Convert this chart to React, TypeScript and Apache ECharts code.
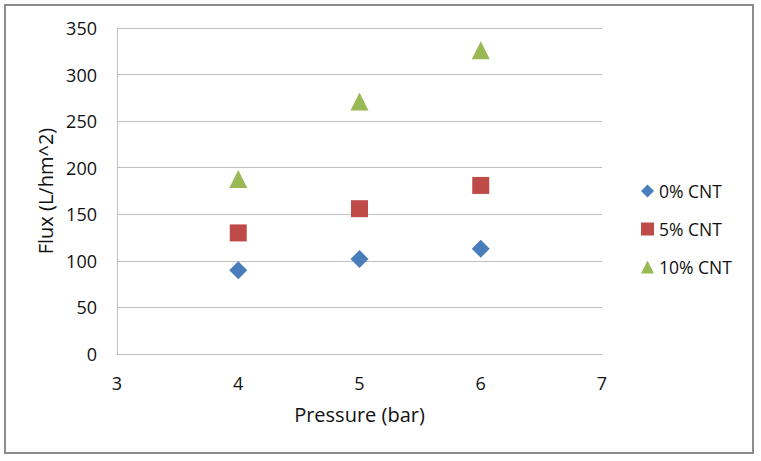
import React, { useEffect, useRef } from "react";
import * as echarts from "echarts";

const pressure = [4, 5, 6];
const cnt0 = [90, 102, 113];
const cnt5 = [130, 156, 181];
const cnt10 = [188, 271, 326];
const seriesNames = ["0% CNT", "5% CNT", "10% CNT"];
const xTitle = "Pressure (bar)";
const yTitle = "Flux (L/hm^2)";

const FONT = "'Open Sans', 'Liberation Sans', sans-serif";

export default function App() {
  const ref = useRef<HTMLDivElement>(null);
  useEffect(() => {
    if (!ref.current) return;
    const chart = echarts.init(ref.current, null, { renderer: "svg" });
    const pts = (ys: number[]) => pressure.map((x, i) => [x, ys[i]]);
    chart.setOption({
      animation: false,
      backgroundColor: "#ffffff",
      textStyle: { fontFamily: FONT },
      graphic: [
        {
          type: "rect",
          shape: { x: 5, y: 5, width: 748, height: 448 },
          style: { fill: "none", stroke: "#8c8c8c", lineWidth: 2 },
          silent: true,
        },
      ],
      grid: { left: 117, right: 159, top: 28, bottom: 107, containLabel: false },
      xAxis: {
        type: "value",
        min: 3,
        max: 7,
        interval: 1,
        name: xTitle,
        nameLocation: "middle",
        nameGap: 50,
        nameTextStyle: { fontFamily: FONT, fontSize: 20, color: "#111" },
        axisLine: { show: true, onZero: false, lineStyle: { color: "#bfbfbf", width: 1 } },
        axisTick: { show: false },
        splitLine: { show: false },
        axisLabel: { margin: 20, fontFamily: FONT, fontSize: 18, color: "#111" },
      },
      yAxis: {
        type: "value",
        min: 0,
        max: 350,
        interval: 50,
        name: yTitle,
        nameLocation: "middle",
        nameRotate: 90,
        nameGap: 58,
        nameTextStyle: { fontFamily: FONT, fontSize: 20, color: "#111" },
        axisLine: { show: true, lineStyle: { color: "#bfbfbf", width: 1 } },
        axisTick: { show: false },
        splitLine: { show: true, lineStyle: { color: "#bfbfbf", width: 1 } },
        axisLabel: { margin: 20, fontFamily: FONT, fontSize: 18, color: "#111" },
      },
      legend: {
        orient: "vertical",
        left: 636,
        top: 177,
        itemWidth: 13,
        itemHeight: 13,
        itemGap: 20,
        textStyle: { fontFamily: FONT, fontSize: 17.5, lineHeight: 18, color: "#111" },
        data: seriesNames,
      },
      series: [
        {
          name: seriesNames[0],
          type: "scatter",
          symbol: "diamond",
          symbolSize: 18,
          itemStyle: { color: "#4a7ebb", opacity: 1 },
          data: pts(cnt0),
        },
        {
          name: seriesNames[1],
          type: "scatter",
          symbol: "rect",
          symbolSize: 17,
          itemStyle: { color: "#be4b48", opacity: 1 },
          data: pts(cnt5),
        },
        {
          name: seriesNames[2],
          type: "scatter",
          symbol: "triangle",
          symbolSize: 18,
          itemStyle: { color: "#98b954", opacity: 1 },
          data: pts(cnt10),
        },
      ],
    });
    return () => chart.dispose();
  }, []);
  return (
    <div
      ref={ref}
      style={{ position: "absolute", left: 0, top: 0, width: 761, height: 461 }}
    />
  );
}
